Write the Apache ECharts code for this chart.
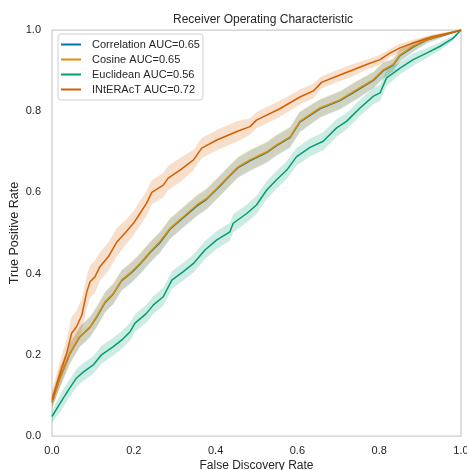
<!DOCTYPE html>
<html><head><meta charset="utf-8">
<script src="https://cdn.jsdelivr.net/npm/echarts@6/dist/echarts.min.js"></script>
<style>html,body{margin:0;padding:0;background:#fff}#c{width:467px;height:470px}</style>
</head><body><div id="c"></div>
<script>
var seriesNames = ['Correlation AUC=0.65','Cosine AUC=0.65','Euclidean AUC=0.56','INtERAcT AUC=0.72'];
var tickLabels = ['0.0','0.2','0.4','0.6','0.8','1.0'];

var cosX = [0,0.02,0.044,0.068,0.093,0.109,0.13,0.15,0.17,0.195,0.215,0.24,0.264,0.289,0.321,0.354,0.378,0.411,0.435,0.455,0.484,0.525,0.549,0.582,0.606,0.655,0.704,0.745,0.786,0.81,0.834,0.851,0.883,0.916,0.957,1.0];
var cosY = [0.084,0.146,0.204,0.245,0.269,0.294,0.331,0.351,0.384,0.405,0.425,0.454,0.479,0.512,0.54,0.569,0.585,0.618,0.643,0.663,0.68,0.7,0.717,0.737,0.775,0.808,0.828,0.853,0.878,0.902,0.915,0.939,0.96,0.976,0.988,1.0];
var cosHW = [0.015,0.025,0.025,0.025,0.025,0.025,0.025,0.025,0.025,0.025,0.025,0.025,0.025,0.025,0.025,0.025,0.025,0.025,0.025,0.025,0.025,0.025,0.025,0.025,0.025,0.022,0.022,0.022,0.02,0.02,0.015,0.015,0.012,0.008,0.004,0];

var corX = cosX;
var corY = [0.083,0.145,0.203,0.244,0.268,0.292,0.329,0.350,0.382,0.403,0.423,0.452,0.476,0.510,0.538,0.566,0.583,0.616,0.641,0.661,0.678,0.698,0.715,0.735,0.773,0.806,0.826,0.851,0.876,0.900,0.913,0.937,0.958,0.975,0.987,1.0];
var corHW = cosHW;

var eucX = [0,0.02,0.04,0.06,0.077,0.101,0.121,0.15,0.17,0.191,0.203,0.231,0.248,0.272,0.293,0.321,0.346,0.374,0.403,0.435,0.443,0.476,0.5,0.525,0.549,0.574,0.598,0.631,0.663,0.696,0.72,0.753,0.786,0.802,0.818,0.851,0.883,0.916,0.949,0.981,1.0];
var eucY = [0.048,0.081,0.113,0.143,0.158,0.175,0.2,0.22,0.236,0.257,0.278,0.302,0.323,0.343,0.384,0.405,0.425,0.458,0.483,0.503,0.524,0.548,0.569,0.606,0.631,0.655,0.688,0.711,0.726,0.759,0.775,0.808,0.837,0.845,0.882,0.906,0.927,0.943,0.96,0.98,1.0];
var eucHW = [0.015,0.022,0.022,0.022,0.022,0.022,0.022,0.022,0.022,0.022,0.022,0.022,0.022,0.022,0.022,0.022,0.022,0.022,0.022,0.022,0.022,0.022,0.022,0.022,0.022,0.022,0.022,0.022,0.022,0.022,0.02,0.02,0.02,0.02,0.02,0.015,0.015,0.012,0.01,0.006,0];

var intX = [0,0.02,0.036,0.048,0.06,0.073,0.085,0.093,0.105,0.117,0.138,0.158,0.183,0.2,0.215,0.231,0.244,0.272,0.284,0.313,0.346,0.366,0.403,0.452,0.484,0.5,0.557,0.606,0.639,0.659,0.696,0.737,0.769,0.802,0.826,0.851,0.883,0.932,0.99,1.0];
var intY = [0.09,0.155,0.204,0.253,0.269,0.298,0.355,0.38,0.392,0.417,0.442,0.477,0.505,0.525,0.548,0.573,0.6,0.618,0.635,0.655,0.68,0.709,0.729,0.75,0.762,0.778,0.806,0.835,0.85,0.871,0.886,0.902,0.915,0.927,0.943,0.956,0.968,0.984,0.997,1.0];
var intHW = [0.02,0.03,0.035,0.04,0.04,0.04,0.04,0.04,0.04,0.035,0.035,0.035,0.03,0.03,0.03,0.03,0.03,0.03,0.03,0.03,0.025,0.025,0.025,0.025,0.02,0.02,0.02,0.018,0.018,0.015,0.015,0.015,0.012,0.012,0.01,0.01,0.008,0.005,0.003,0];

var colors = ['#0173b2','#de8f05','#029e73','#d55e00'];
var groups = [[corX,corY,corHW],[cosX,cosY,cosHW],[eucX,eucY,eucHW],[intX,intY,intHW]];

var series = [];
groups.forEach(function(g, k){
  var xs=g[0], ys=g[1], hw=g[2];
  series.push({
    type:'custom', name: seriesNames[k]+' band', clip:true, z: 2+k*2, silent:true,
    data: xs.map(function(x,i){return [x, ys[i]];}),
    renderItem: function(params, api){
      if (params.dataIndex !== 0) return null;
      var pts = [];
      for (var i=0;i<xs.length;i++) pts.push(api.coord([xs[i], Math.min(1.02, ys[i]+hw[i])]));
      for (var j=xs.length-1;j>=0;j--) pts.push(api.coord([xs[j], ys[j]-hw[j]]));
      return {type:'polygon', shape:{points:pts}, style:{fill:colors[k], opacity:0.2}};
    }
  });
  series.push({
    type:'line', name: seriesNames[k], z: 3+k*2, showSymbol:false, symbol:'none',
    data: xs.map(function(x,i){return [x, ys[i]];}),
    lineStyle:{color:colors[k], width:1.5}, itemStyle:{color:colors[k]}
  });
});

var chart = echarts.init(document.getElementById('c'), null, {renderer:'canvas'});
var fontFam = 'Liberation Sans, Arial, sans-serif';
chart.setOption({
  animation:false,
  backgroundColor:'#fff',
  title:{text:'Receiver Operating Characteristic', left:168, top:9,
    textStyle:{fontFamily:fontFam, fontSize:12, fontWeight:'normal', color:'#262626'}},
  legend:{
    data: seriesNames, orient:'vertical', left:58, top:34,
    icon:'rect', itemWidth:20, itemHeight:2, itemGap:4,
    backgroundColor:'rgba(255,255,255,0.8)', borderColor:'#d0d0d0', borderWidth:1, borderRadius:3,
    padding:[5,3,5,3],
    textStyle:{fontFamily:fontFam, fontSize:11, color:'#262626', padding:[0,0,0,6], lineHeight:11}
  },
  grid:{left:52, right:6, top:30, bottom:34, show:true, borderColor:'#cccccc', borderWidth:1.25,
    containLabel:false, outerBoundsMode:'none'},
  xAxis:{type:'value', min:0, max:1, interval:0.2,
    name:'False Discovery Rate', nameLocation:'middle', nameGap:24, nameMoveOverlap:false,
    nameTextStyle:{fontFamily:fontFam, fontSize:12, color:'#262626'},
    axisLine:{show:false}, axisTick:{show:false}, splitLine:{show:false},
    axisLabel:{fontFamily:fontFam, fontSize:11, color:'#262626', margin:9,
      formatter:function(v){return tickLabels[Math.round(v*5)];}}},
  yAxis:{type:'value', min:0, max:1, interval:0.2,
    name:'True Positive Rate', nameLocation:'middle', nameGap:31, nameMoveOverlap:false,
    nameTextStyle:{fontFamily:fontFam, fontSize:12.5, color:'#262626'},
    axisLine:{show:false}, axisTick:{show:false}, splitLine:{show:false},
    axisLabel:{fontFamily:fontFam, fontSize:11, color:'#262626', margin:11,
      formatter:function(v){return tickLabels[Math.round(v*5)];}}},
  series: series
});
</script></body></html>
